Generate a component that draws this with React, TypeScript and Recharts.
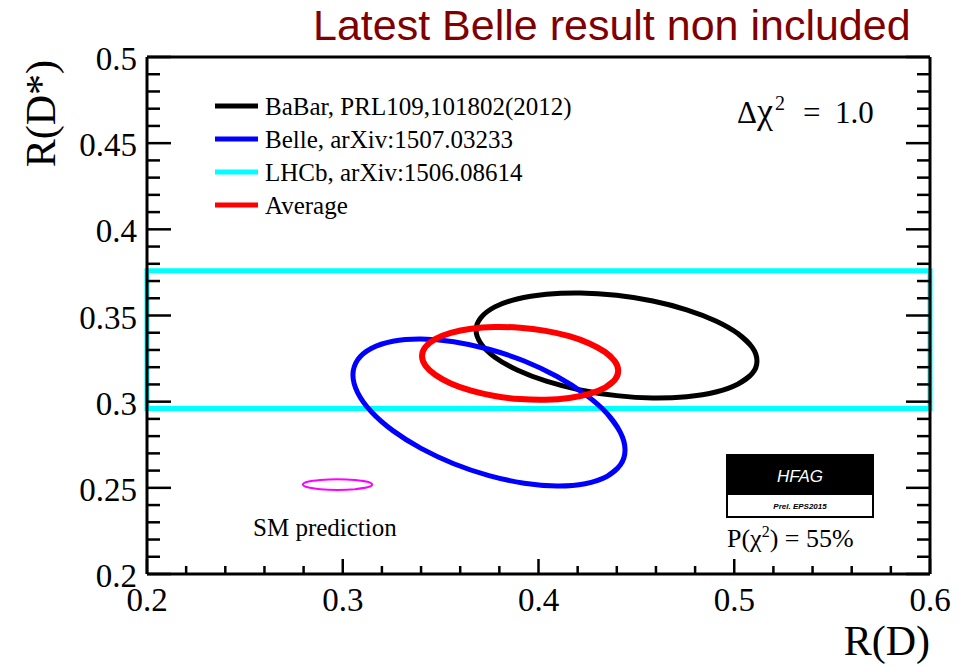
import React from "react";
import { ComposedChart, Line, XAxis, YAxis, ReferenceArea, Legend } from "recharts";

// Δχ² = 1 contours in the R(D) / R(D*) plane, sampled every 15° round each ellipse
const babarRD = [0.5116, 0.5092, 0.502, 0.4906, 0.4757, 0.4584, 0.4399, 0.4213, 0.404, 0.3891, 0.3777, 0.3706, 0.3681, 0.3706, 0.3777, 0.3891, 0.404, 0.4213, 0.4399, 0.4584, 0.4757, 0.4906, 0.502, 0.5092];
const babarRDstar = [0.3236, 0.3315, 0.3394, 0.3468, 0.3533, 0.3584, 0.3617, 0.3631, 0.3623, 0.3596, 0.355, 0.3488, 0.3416, 0.3337, 0.3258, 0.3184, 0.3119, 0.3068, 0.3035, 0.3021, 0.3029, 0.3056, 0.3103, 0.3164];

const belleRD = [0.4442, 0.4418, 0.4349, 0.4238, 0.4095, 0.3927, 0.3747, 0.3567, 0.34, 0.3256, 0.3145, 0.3076, 0.3052, 0.3076, 0.3145, 0.3256, 0.34, 0.3567, 0.3747, 0.3927, 0.4095, 0.4238, 0.4349, 0.4418];
const belleRDstar = [0.272, 0.2822, 0.2933, 0.3043, 0.3146, 0.3236, 0.3304, 0.3348, 0.3364, 0.3351, 0.3309, 0.3243, 0.3155, 0.3053, 0.2943, 0.2832, 0.2729, 0.264, 0.2571, 0.2527, 0.2511, 0.2524, 0.2566, 0.2633];

const avgRD = [0.4407, 0.439, 0.434, 0.426, 0.4157, 0.4036, 0.3906, 0.3776, 0.3656, 0.3552, 0.3472, 0.3422, 0.3405, 0.3422, 0.3472, 0.3552, 0.3656, 0.3776, 0.3906, 0.4036, 0.4157, 0.426, 0.434, 0.439];
const avgRDstar = [0.3179, 0.3234, 0.3288, 0.3338, 0.338, 0.3411, 0.3429, 0.3433, 0.3423, 0.3399, 0.3363, 0.3317, 0.3265, 0.321, 0.3156, 0.3106, 0.3064, 0.3033, 0.3015, 0.3011, 0.3021, 0.3045, 0.3081, 0.3127];

const smRD = [0.315, 0.3126, 0.3062, 0.2973, 0.2885, 0.282, 0.2796, 0.282, 0.2885, 0.2973, 0.3062, 0.3126];
const smRDstar = [0.2519, 0.2535, 0.2546, 0.255, 0.2546, 0.2535, 0.2519, 0.2503, 0.2492, 0.2488, 0.2492, 0.2503];

// LHCb only measures R(D*), so it is a band over the full R(D) range
const lhcbRDstar = [0.296, 0.376];
const rdRange = [0.2, 0.6];
const rdstarRange = [0.2, 0.5];

const xMajor = [0.2, 0.3, 0.4, 0.5, 0.6];
const yMajor = [0.2, 0.25, 0.3, 0.35, 0.4, 0.45, 0.5];
const xTicks = Array.from({ length: 21 }, (_, i) => +(0.2 + i * 0.02).toFixed(2));
const yTicks = Array.from({ length: 31 }, (_, i) => +(0.2 + i * 0.01).toFixed(2));

const legendItems = [
  { name: "BaBar, PRL109,101802(2012)", color: "#000000" },
  { name: "Belle, arXiv:1507.03233", color: "#0000ff" },
  { name: "LHCb, arXiv:1506.08614", color: "#00ffff" },
  { name: "Average", color: "#ff0000" },
];

const SERIF = "'Liberation Serif', 'Times New Roman', serif";
const SANS = "'Liberation Sans', Arial, sans-serif";

// natural spline is open-ended, so wrap a few samples past the start to close the loop smoothly
const closed = (xs: number[], ys: number[]) => {
  const pts = xs.map((x, i) => ({ rd: x, rds: ys[i] }));
  return [...pts.slice(-2), ...pts, ...pts.slice(0, 3)];
};

const findMajor = (v: number, majors: number[]) => majors.find((m) => Math.abs(m - v) < 1e-6);

const BottomTick = (props: any) => {
  const { x, y, payload } = props;
  const m = findMajor(payload.value, xMajor);
  return (
    <g>
      <line x1={x} x2={x} y1={y} y2={y - (m !== undefined ? 15 : 8)} stroke="#000" strokeWidth={2.5} />
      {m !== undefined && (
        <text x={x} y={y + 37} textAnchor="middle" fontFamily={SERIF} fontSize={33} fill="#000">
          {String(m)}
        </text>
      )}
    </g>
  );
};

const TopTick = (props: any) => {
  const { x, y, payload } = props;
  const m = findMajor(payload.value, xMajor);
  return <line x1={x} x2={x} y1={y} y2={y + (m !== undefined ? 15 : 8)} stroke="#000" strokeWidth={2.5} />;
};

const LeftTick = (props: any) => {
  const { x, y, payload } = props;
  const m = findMajor(payload.value, yMajor);
  return (
    <g>
      <line x1={x} x2={x + (m !== undefined ? 24 : 13)} y1={y} y2={y} stroke="#000" strokeWidth={2.5} />
      {m !== undefined && (
        <text x={x - 10} y={y + 13} textAnchor="end" fontFamily={SERIF} fontSize={33} fill="#000">
          {String(m)}
        </text>
      )}
    </g>
  );
};

const RightTick = (props: any) => {
  const { x, y, payload } = props;
  const m = findMajor(payload.value, yMajor);
  return <line x1={x} x2={x - (m !== undefined ? 24 : 13)} y1={y} y2={y} stroke="#000" strokeWidth={2.5} />;
};

const LegendBox = () => (
  <svg width={420} height={140}>
    {legendItems.map((item, i) => (
      <g key={item.name}>
        <line x1={10} x2={53} y1={18 + i * 33} y2={18 + i * 33} stroke={item.color} strokeWidth={5} />
        <text x={60} y={27 + i * 33} fontFamily={SERIF} fontSize={25} fill="#000">
          {item.name}
        </text>
      </g>
    ))}
  </svg>
);

const axisLine = { stroke: "#000", strokeWidth: 3 };

const contour = (xs: number[], ys: number[], color: string, width: number) => (
  <Line
    data={closed(xs, ys)}
    dataKey="rds"
    type="natural"
    stroke={color}
    strokeWidth={width}
    strokeLinejoin="round"
    dot={false}
    activeDot={false}
    isAnimationActive={false}
  />
);

export default function App() {
  return (
    <div style={{ position: "absolute", left: 0, top: 0, width: 967, height: 666, background: "#fff" }}>
      <ComposedChart width={967} height={666} margin={{ top: 47, right: 27, bottom: 82, left: 137 }}>
        <XAxis
          dataKey="rd"
          type="number"
          domain={rdRange}
          ticks={xTicks}
          interval={0}
          allowDataOverflow
          height={10}
          tickSize={0}
          tickMargin={0}
          tickLine={false}
          axisLine={axisLine}
          tick={BottomTick}
        />
        <XAxis
          xAxisId="top"
          orientation="top"
          type="number"
          domain={rdRange}
          ticks={xTicks}
          interval={0}
          allowDataOverflow
          height={10}
          tickSize={0}
          tickMargin={0}
          tickLine={false}
          axisLine={axisLine}
          tick={TopTick}
        />
        <YAxis
          type="number"
          domain={rdstarRange}
          ticks={yTicks}
          interval={0}
          allowDataOverflow
          width={10}
          tickSize={0}
          tickMargin={0}
          tickLine={false}
          axisLine={axisLine}
          tick={LeftTick}
        />
        <YAxis
          yAxisId="right"
          orientation="right"
          type="number"
          domain={rdstarRange}
          ticks={yTicks}
          interval={0}
          allowDataOverflow
          width={10}
          tickSize={0}
          tickMargin={0}
          tickLine={false}
          axisLine={axisLine}
          tick={RightTick}
        />
        <ReferenceArea
          x1={rdRange[0]}
          x2={rdRange[1]}
          y1={lhcbRDstar[0]}
          y2={lhcbRDstar[1]}
          fill="none"
          fillOpacity={0}
          stroke="#00ffff"
          strokeWidth={5}
        />
        {contour(babarRD, babarRDstar, "#000000", 5)}
        {contour(belleRD, belleRDstar, "#0000ff", 5)}
        {contour(avgRD, avgRDstar, "#ff0000", 6)}
        {contour(smRD, smRDstar, "#ff00ff", 2)}
        <Legend
          layout="vertical"
          align="center"
          verticalAlign="middle"
          wrapperStyle={{ top: 88, left: 205, width: 420, height: 140 }}
          content={() => <LegendBox />}
        />
      </ComposedChart>
      <svg width={967} height={666} style={{ position: "absolute", left: 0, top: 0, pointerEvents: "none" }}>
        <text x={313} y={40} fontFamily={SANS} fontSize={43} fill="#800000">
          Latest Belle result non included
        </text>
        <text x={737} y={123} fontFamily={SERIF} fontSize={31} fill="#000">
          Δ<tspan fontSize={36}>χ</tspan>
          <tspan dx={2} dy={-13} fontSize={20}>2</tspan>
          <tspan x={803} dy={13}>=</tspan>
          <tspan x={835}>1.0</tspan>
        </text>
        <text x={253} y={536} fontFamily={SERIF} fontSize={25} fill="#000">
          SM prediction
        </text>
        <rect x={727} y={455} width={146} height={62} fill="#fff" stroke="#000" strokeWidth={2} />
        <rect x={727} y={455} width={146} height={40} fill="#000" />
        <text x={800} y={482} textAnchor="middle" fontFamily={SANS} fontStyle="italic" fontSize={17} fill="#fff">
          HFAG
        </text>
        <text x={800} y={509} textAnchor="middle" fontFamily={SANS} fontStyle="italic" fontWeight="bold" fontSize={8} fill="#000">
          Prel. EPS2015
        </text>
        <text x={727} y={547} fontFamily={SERIF} fontSize={26} fill="#000">
          P(χ<tspan dy={-10} fontSize={16}>2</tspan>
          <tspan dy={10}>) = 55%</tspan>
        </text>
        <text x={930} y={655} textAnchor="end" fontFamily={SERIF} fontSize={42} fill="#000">
          R(D)
        </text>
        <text transform="translate(55,60) rotate(-90)" textAnchor="end" fontFamily={SERIF} fontSize={42} fill="#000">
          R(D*)
        </text>
      </svg>
    </div>
  );
}
